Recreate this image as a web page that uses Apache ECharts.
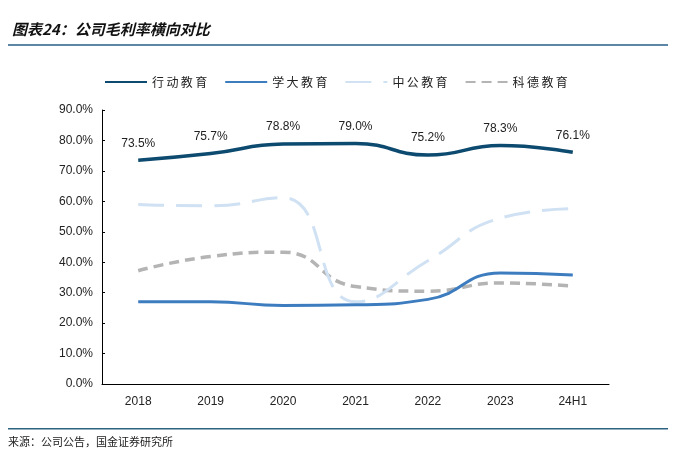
<!DOCTYPE html>
<html><head><meta charset="utf-8">
<script src="https://cdn.jsdelivr.net/npm/echarts@6/dist/echarts.min.js"></script>
<style>html,body{margin:0;padding:0;background:#fff}#c{width:676px;height:461px}</style>
</head><body><div id="c"></div>
<script>
const categories = ['2018','2019','2020','2021','2022','2023','24H1'];
const xingdong = [73.5, 75.7, 78.8, 79.0, 75.2, 78.3, 76.1];
const xueda = [27.0, 27.0, 25.8, 26.0, 27.8, 36.5, 35.8];
const zhonggong = [59.0, 58.5, 61.2, 27.0, 40.5, 54.5, 57.6];
const kede = [37.2, 41.9, 43.3, 32.0, 30.5, 33.2, 32.1];
const yTicks = [0, 10, 20, 30, 40, 50, 60, 70, 80, 90];
const names = ['行动教育','学大教育','中公教育','科德教育'];

const chart = echarts.init(document.getElementById('c'));
const font = 'Liberation Sans, Arial, sans-serif';
chart.setOption({
  animation: false,
  textStyle: {fontFamily: font},
  graphic: [
    {type:'text', left: 12, top: 22, style:{text:'图表24：公司毛利率横向对比', font:'italic bold 15px "Noto Sans CJK SC"', fill:'#111'}},
    {type:'rect', shape:{x:8, y:44, width:660, height:2}, style:{fill:'#5b86a6'}},
    {type:'rect', shape:{x:8, y:428, width:660, height:1.5}, style:{fill:'#2d6483'}},
    {type:'text', left: 8, top: 436, style:{text:'来源：公司公告，国金证券研究所', font:'11px "Noto Sans CJK SC"', fill:'#222'}}
  ],
  legend: {
    top: 71, left: 99, itemWidth: 42, itemHeight: 4, itemGap: 17,
    itemStyle: {opacity: 0},
    formatter: n => n.split('').join('\u2009'),
    textStyle: {fontFamily:'Noto Sans CJK SC', fontSize: 12, color:'#222'},
    data: names
  },
  grid: {left: 102, right: 67, top: 110, bottom: 77},
  xAxis: {
    type: 'category', data: categories, boundaryGap: true,
    axisLine: {lineStyle:{color:'#000', width:1}},
    axisTick: {inside: true, length: 3, lineStyle:{color:'#000'}},
    axisLabel: {color:'#222', fontSize: 12, margin: 12, fontFamily: font}
  },
  yAxis: {
    type: 'value', min: 0, max: 90, interval: 10,
    axisLine: {show: true, lineStyle:{color:'#000', width:1}},
    axisTick: {show: true, inside: true, length: 3, lineStyle:{color:'#000'}},
    splitLine: {show: false},
    axisLabel: {color:'#222', fontSize: 12, margin: 9, fontFamily: font, formatter: v => yTicks.includes(v) ? v.toFixed(1) + '%' : ''}
  },
  series: [
    {name: names[0], type:'line', data: xingdong, smooth: 0.5,
     symbol:'circle', symbolSize: 2, showSymbol: true,
     lineStyle:{color:'#0d4a6f', width:3.5}, itemStyle:{color:'rgba(13,74,111,0)', borderWidth: 0},
     label:{show:true, position:'top', distance: 10, formatter: p => p.value.toFixed(1)+'%', color:'#222', fontSize: 12, fontFamily: font}, z: 5},
    {name: names[1], type:'line', data: xueda, smooth: 0.5, symbol:'none',
     lineStyle:{color:'#3d7dbf', width:3}, itemStyle:{color:'#3d7dbf'}, z: 4},
    {name: names[2], type:'line', data: zhonggong, smooth: 0.5, symbol:'none',
     lineStyle:{color:'#cfe1f3', width:3, type:[26, 12]}, itemStyle:{color:'#cfe1f3'}, z: 3},
    {name: names[3], type:'line', data: kede, smooth: 0.5, symbol:'none',
     lineStyle:{color:'#b4b4b4', width:3.5, type:[10, 6]}, itemStyle:{color:'#b4b4b4'}, z: 2}
  ]
});
</script></body></html>
